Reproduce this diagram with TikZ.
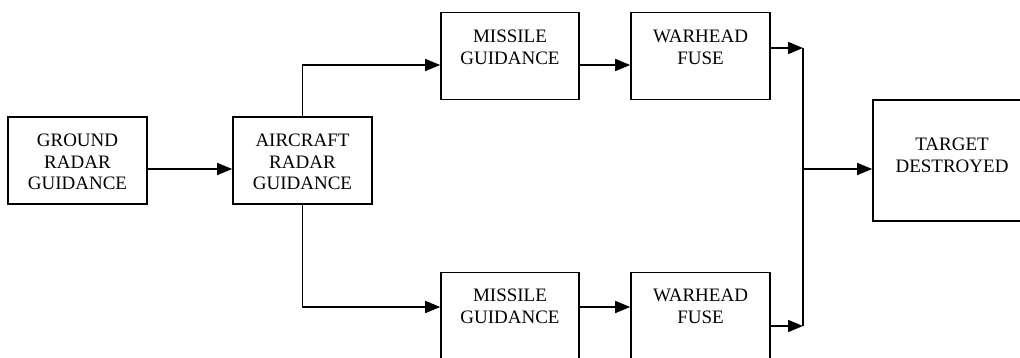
\documentclass[tikz,border=0pt]{standalone}
\usepackage{fontspec}
\setmainfont{Liberation Serif}
\usetikzlibrary{arrows.meta}
\begin{document}
\begin{tikzpicture}[x=1pt,y=-1pt,
  box/.style={draw,line width=1.6pt,rectangle,inner sep=0pt,minimum width=#1,minimum height=87pt},
  box/.default=139pt,
  lbl/.style={align=center,inner sep=0pt,font=\fontsize{19}{21.5}\selectfont},
  arr/.style={line width=1.5pt,-{Triangle[length=15pt,width=12pt]}},
  ln/.style={line width=1.5pt}]
\useasboundingbox (0,0) rectangle (1020,358);
\begin{scope}
\clip (0,0) rectangle (1020,358);
% boxes
\node[box] (g) at (77.5,160.5) {};
\node[box] (a) at (302.5,160.5) {};
\node[box=138pt] (m1) at (510,56) {};
\node[box] (w1) at (700.5,56) {};
\node[box=138pt] (m2) at (510,316) {};
\node[box] (w2) at (700.5,316) {};
\node[box=160pt,minimum height=121pt] (t) at (953,160.5) {};
\end{scope}
% labels
\node[lbl] (gt) at (77.5,162) {GROUND\\RADAR\\GUIDANCE};
\node[lbl] (at) at (302.5,162) {AIRCRAFT\\RADAR\\GUIDANCE};
\node[lbl] (m1t) at (510,47.5) {MISSILE\\GUIDANCE};
\node[lbl] (w1t) at (700.5,47.5) {WARHEAD\\FUSE};
\node[lbl] (m2t) at (510,306.5) {MISSILE\\GUIDANCE};
\node[lbl] (w2t) at (700.5,306.5) {WARHEAD\\FUSE};
\node[lbl] (tt) at (952,155.5) {TARGET\\DESTROYED};
% helper coordinates
\coordinate (y169) at (0,169);
\coordinate (y65) at (0,65);
\coordinate (y307) at (0,307);
\coordinate (y48) at (0,48);
\coordinate (y326) at (0,326);
\coordinate (jt) at (803,48);
\coordinate (jb) at (803,326);
\coordinate (jm) at (803,169);
% connectors
\draw[arr] (g.east |- y169) -- (a.west |- y169);
\draw[arr] (a.north) |- (m1.west |- y65);
\draw[arr] (a.south) |- (m2.west |- y307);
\draw[arr] (m1.east |- y65) -- (w1.west |- y65);
\draw[arr] (m2.east |- y307) -- (w2.west |- y307);
\draw[arr] (w1.east |- y48) -- (jt);
\draw[arr] (w2.east |- y326) -- (jb);
\draw[ln] (jt) -- (jb);
\draw[arr] (jm) -- (t.west |- jm);
\end{tikzpicture}
\end{document}
